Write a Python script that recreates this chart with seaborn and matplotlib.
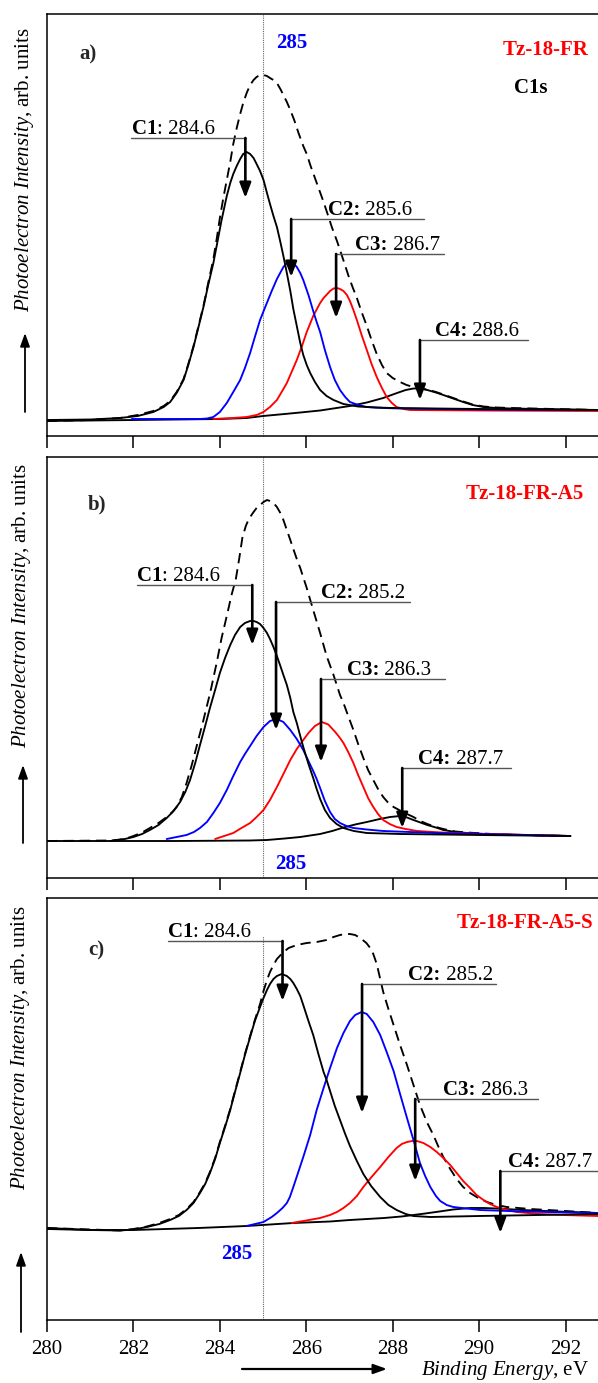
import matplotlib
matplotlib.use("Agg")
import matplotlib.pyplot as plt
import pandas as pd
import seaborn as sns

# ---------------- data (binding energy in eV, intensity in arb. units) ----------------
# Panel a) Tz-18-FR
a_env_E = [280.0, 281.0, 281.69, 282.1, 282.46, 282.70, 282.85, 283.00, 283.16, 283.27, 283.39, 283.50, 283.62,
           283.73, 283.85, 283.93, 284.00, 284.08, 284.16, 284.24, 284.31, 284.39, 284.47, 284.54, 284.62, 284.70,
           284.78, 284.85, 284.93, 285.01, 285.09, 285.16, 285.24, 285.32, 285.40, 285.47, 285.55, 285.63, 285.72,
           285.82, 285.93, 286.01, 286.10, 286.20, 286.30, 286.40, 286.50, 286.59, 286.71, 286.78, 286.88, 286.97,
           287.07, 287.17, 287.28, 287.40, 287.51, 287.63, 287.75, 287.86, 288.00, 288.17, 288.32, 288.48, 288.63,
           288.80, 289.00, 289.17, 289.40, 289.63, 289.85, 290.10, 290.40, 290.72, 292.75]
a_env_I = [15, 16, 18, 21, 25, 30, 35, 44, 57, 72, 90, 109, 130, 153, 177, 198, 218, 238, 256, 274, 292, 308, 322,
           333, 343, 351, 356, 359, 361, 361, 360, 358, 356, 353, 347, 341, 334, 326, 316, 303, 290, 282, 270, 258,
           246, 234, 221, 209, 195, 186, 173, 161, 149, 138, 124, 110, 96, 82, 71, 63, 58, 54, 51, 49, 47.5, 46.5,
           44, 41.5, 38, 34.5, 31.5, 29.5, 28.5, 28, 26]
a_c1_E = [280.0, 281.0, 281.69, 282.1, 282.46, 282.70, 282.85, 283.00, 283.16, 283.27, 283.39, 283.50, 283.62,
          283.73, 283.85, 283.93, 284.04, 284.16, 284.24, 284.31, 284.39, 284.47, 284.54, 284.62, 284.70, 284.78,
          284.85, 284.93, 285.01, 285.09, 285.16, 285.24, 285.32, 285.40, 285.47, 285.55, 285.63, 285.70, 285.78,
          285.86, 285.93, 286.01, 286.09, 286.20, 286.32, 286.47, 286.63, 286.86, 287.2, 287.6, 288.0, 290.0, 292.75]
a_c1_I = [16, 16.5, 18, 20, 24, 29, 34, 43, 56, 71, 89, 108, 129, 151, 173, 191, 216, 240, 253, 262, 270, 277,
          282, 284, 282, 278, 272, 265, 256, 243, 232, 220, 209, 194, 180, 163, 145, 127, 110, 93, 81, 71, 63, 54,
          46, 40, 36, 32, 29.5, 28.5, 28, 27, 26]
a_c2_E = [281.96, 283.54, 283.70, 283.85, 284.00, 284.16, 284.31, 284.47, 284.58, 284.70, 284.81, 284.93, 285.05,
          285.20, 285.32, 285.47, 285.55, 285.63, 285.70, 285.78, 285.86, 285.93, 286.05, 286.16, 286.24, 286.32,
          286.43, 286.55, 286.66, 286.78, 286.90, 287.01, 287.20, 287.40, 287.80, 288.17, 290.0, 292.75]
a_c2_I = [17, 17, 17.5, 19, 24, 33, 44, 56, 68, 83, 99, 116, 129, 145, 157, 169, 173, 175, 173, 169, 163, 156,
          141, 125, 114, 104, 86, 69, 56, 46, 39, 34, 31, 29, 28, 27.5, 26.5, 26]
a_c3_E = [283.85, 284.30, 284.62, 284.85, 285.01, 285.16, 285.32, 285.43, 285.55, 285.66, 285.78, 285.90, 286.01,
          286.16, 286.32, 286.40, 286.55, 286.63, 286.71, 286.78, 286.86, 286.94, 287.01, 287.09, 287.17, 287.28,
          287.40, 287.51, 287.63, 287.75, 287.86, 287.98, 288.09, 288.25, 288.40, 290.0, 292.75]
a_c3_I = [17, 18, 19, 21, 24, 29, 36, 44, 53, 64, 76, 90, 104, 120, 133, 138, 145, 147.5, 148, 147, 145, 141, 135,
          126, 116, 101, 86, 72, 59, 48, 39, 33, 29, 27, 26, 25.5, 25]
a_c4_E = [280.0, 282.0, 284.0, 284.62, 285.0, 285.5, 285.86, 286.32, 286.7, 287.01, 287.40, 287.78, 288.10, 288.30,
          288.48, 288.63, 288.80, 289.00, 289.17, 289.40, 289.63, 289.85, 290.10, 290.40, 290.72, 292.75]
a_c4_I = [15, 16, 17, 18, 20, 22, 23.5, 25.5, 28, 30, 33.5, 38, 43, 46, 47.5, 47.5, 46, 43.5, 41, 37.5, 34, 31,
          29, 28, 27.5, 26]

# Panel b) Tz-18-FR-A5
b_env_E = [280.0, 281.5, 281.8, 282.0, 282.2, 282.38, 282.58, 282.77, 282.90, 283.0, 283.12, 283.23, 283.35,
           283.47, 283.62, 283.78, 283.93, 284.04, 284.16, 284.27, 284.37, 284.45, 284.52, 284.60, 284.67, 284.78,
           284.85, 284.93, 285.01, 285.09, 285.16, 285.24, 285.32, 285.40, 285.47, 285.55, 285.63, 285.70, 285.78,
           285.86, 286.01, 286.16, 286.32, 286.47, 286.63, 286.78, 286.86, 286.97, 287.09, 287.20, 287.32, 287.43,
           287.55, 287.66, 287.78, 287.90, 288.02, 288.17, 288.33, 288.48, 288.64, 288.80, 289.00, 289.17, 289.45,
           289.72, 290.1, 290.5, 292.11]
b_env_I = [37, 37.5, 39, 42, 45.5, 50, 55, 61, 66, 71, 81, 95, 113, 133, 158, 186, 216, 240, 262, 283, 299, 320,
           340, 352, 359, 366, 370, 373, 376, 378, 377, 375, 371, 365, 358, 348, 338, 329, 319, 310, 290, 268, 245,
           222, 203, 183, 175, 162, 148, 134, 120, 108, 98, 89, 81, 75, 71, 67.5, 64, 61, 57, 54, 51, 49, 46.5,
           45.5, 44.5, 43.5, 42]
b_c1_E = [281.46, 281.8, 282.0, 282.2, 282.38, 282.58, 282.77, 282.93, 283.08, 283.20, 283.31, 283.43, 283.54,
          283.66, 283.77, 283.89, 284.00, 284.12, 284.24, 284.35, 284.47, 284.58, 284.70, 284.78, 284.85, 284.93,
          285.01, 285.09, 285.16, 285.24, 285.32, 285.40, 285.47, 285.55, 285.63, 285.70, 285.78, 285.86, 285.93,
          286.05, 286.16, 286.24, 286.32, 286.43, 286.55, 286.70, 286.86, 287.10, 287.40, 288.17, 290.0, 292.11]
b_c1_I = [37, 39, 41, 44, 48, 53, 60, 67, 76, 86, 98, 115, 133, 152, 170, 188, 205, 220, 233, 243, 251, 255, 257,
          257, 256, 254, 250, 245, 239, 231, 222, 212, 203, 193, 180, 166, 155, 142, 131, 114, 100, 89, 79, 68, 60,
          54, 50, 47, 45, 44, 43, 42]
b_c2_E = [282.77, 283.0, 283.23, 283.40, 283.54, 283.70, 283.85, 284.00, 284.16, 284.31, 284.47, 284.58, 284.70,
          284.85, 285.01, 285.16, 285.32, 285.47, 285.63, 285.78, 285.93, 286.05, 286.16, 286.24, 286.32, 286.43,
          286.55, 286.66, 286.78, 286.93, 287.09, 287.40, 287.78, 289.0, 292.11]
b_c2_I = [39, 41, 43, 46, 50, 56, 65, 75, 88, 102, 116, 124, 132, 142, 151, 157, 159, 156, 148, 139, 128, 117,
          107, 99, 90, 77, 66, 59, 55, 52, 50, 48.5, 47, 45, 42]
b_c3_E = [283.89, 284.1, 284.31, 284.50, 284.70, 284.85, 285.01, 285.16, 285.32, 285.47, 285.63, 285.78, 285.93,
          286.05, 286.20, 286.36, 286.51, 286.67, 286.78, 286.86, 286.97, 287.09, 287.20, 287.32, 287.43, 287.55,
          287.66, 287.78, 287.93, 288.09, 288.30, 288.56, 289.33, 292.11]
b_c3_I = [39, 42, 45, 50, 55, 61, 68, 78, 91, 104, 118, 129, 138, 145, 152, 156, 153.5, 146, 140, 135, 126, 115,
          103, 91, 80, 71, 64, 58, 54, 51, 49, 47, 45, 42]
b_c4_E = [280.0, 283.0, 284.70, 285.09, 285.50, 285.86, 286.32, 286.60, 286.86, 287.13, 287.40, 287.70, 287.94,
          288.17, 288.33, 288.48, 288.64, 288.80, 289.00, 289.17, 289.45, 289.72, 290.1, 290.5, 292.11]
b_c4_I = [37, 37, 37.5, 38, 39.5, 41, 44, 47, 50.5, 53.5, 56, 59, 61, 62, 60.5, 58, 55.5, 53, 50.5, 48, 46, 45,
          44, 43.5, 42]

# Panel c) Tz-18-FR-A5-S
c_env_E = [280.0, 281.0, 281.69, 282.0, 282.31, 282.6, 282.85, 283.05, 283.23, 283.39, 283.54, 283.66, 283.77,
           283.89, 284.00, 284.12, 284.24, 284.35, 284.47, 284.58, 284.70, 284.81, 284.93, 285.01, 285.09, 285.16,
           285.24, 285.32, 285.45, 285.59, 285.78, 286.01, 286.24, 286.47, 286.63, 286.78, 286.90, 287.01, 287.13,
           287.25, 287.39, 287.48, 287.55, 287.63, 287.70, 287.78, 287.90, 288.02, 288.17, 288.33, 288.48, 288.63,
           288.80, 288.94, 289.05, 289.17, 289.33, 289.48, 289.63, 289.79, 289.98, 290.18, 290.40, 290.64, 291.18,
           292.0, 292.75]
c_env_I = [92, 90.5, 89.5, 91, 93.5, 97, 101, 105, 111, 118, 128, 137, 148, 162, 178, 194, 211, 229, 248, 266, 284,
           300, 316, 329, 340, 348, 355, 361, 367, 372, 375, 377, 378, 380, 383, 385, 386, 386, 385, 382, 377, 372,
           366, 356, 343, 328, 311, 295, 275, 255, 235, 215, 197, 185, 174, 163, 151, 141, 133, 127, 122, 118, 115,
           113, 111, 109, 107]
c_c1_E = [280.0, 280.5, 281.0, 281.69, 282.0, 282.31, 282.6, 282.85, 283.05, 283.23, 283.39, 283.54, 283.66,
          283.77, 283.89, 284.00, 284.12, 284.24, 284.35, 284.47, 284.58, 284.70, 284.81, 284.93, 285.01, 285.09,
          285.16, 285.24, 285.32, 285.43, 285.55, 285.63, 285.70, 285.78, 285.86, 285.93, 286.05, 286.16, 286.28,
          286.40, 286.47, 286.55, 286.66, 286.78, 286.90, 287.01, 287.17, 287.32, 287.50, 287.71, 287.90, 288.09,
          288.30, 288.48, 288.87, 290.0, 292.75]
c_c1_I = [92, 91, 90, 89.5, 90.5, 93, 96, 100, 104, 110, 117, 127, 136, 147, 161, 177, 193, 210, 228, 247, 265,
          283, 299, 313, 322, 330, 336, 341, 344, 346, 344, 341, 337, 331, 324, 315, 299, 285, 266, 248, 240, 229,
          214, 200, 186, 174, 159, 146, 134, 123, 115, 110, 106, 104, 103, 104, 106]
c_c2_E = [284.62, 285.01, 285.20, 285.32, 285.45, 285.55, 285.62, 285.70, 285.80, 285.93, 286.09, 286.24, 286.40,
          286.55, 286.71, 286.86, 287.01, 287.13, 287.28, 287.40, 287.55, 287.71, 287.86, 288.02, 288.17, 288.33,
          288.48, 288.63, 288.75, 288.87, 289.00, 289.10, 289.25, 289.40, 290.02, 291.0, 292.75]
c_c2_I = [94, 98, 103, 107, 112, 117, 123, 133, 146, 163, 185, 210, 232, 252, 272, 287, 299, 305, 308, 306, 298,
          285, 268, 249, 226, 202, 180, 157, 144, 133, 124, 119, 115, 113, 110, 108.5, 107]
c_c3_E = [285.66, 286.0, 286.32, 286.55, 286.71, 286.86, 287.01, 287.17, 287.32, 287.51, 287.71, 287.90, 288.09,
          288.21, 288.33, 288.45, 288.56, 288.71, 288.87, 289.02, 289.17, 289.33, 289.48, 289.63, 289.79, 289.94,
          290.10, 290.25, 290.41, 290.64, 290.87, 291.4, 291.94, 292.75]
c_c3_I = [97, 99.5, 102, 105, 108, 112, 117, 124, 133, 143, 153, 163, 172, 176, 178, 179, 179, 177, 173, 168, 162,
          155, 147, 139, 132, 125, 120, 116, 113, 110, 108, 106, 105, 104]
c_c4_E = [280.0, 281.0, 282.0, 283.5, 284.62, 285.70, 286.55, 287.01, 287.8, 288.2, 288.48, 288.75, 289.0, 289.4,
          289.79, 290.1, 290.4, 291.0, 291.8, 292.75]
c_c4_I = [91, 90, 90, 92, 94, 97, 98.5, 100, 102, 103.5, 105, 106.5, 108, 110.5, 112, 112, 111.5, 110, 108.5, 107]

# text labels
samples = ["Tz-18-FR", "Tz-18-FR-A5", "Tz-18-FR-A5-S"]
panel_tags = ["a)", "b)", "c)"]
peak_names = ["C1", "C2", "C3", "C4"]
a_peak_values = ["284.6", "285.6", "286.7", "288.6"]
b_peak_values = ["284.6", "285.2", "286.3", "287.7"]
c_peak_values = ["284.6", "285.2", "286.3", "287.7"]
ref_energy = 285
xticks = [280, 282, 284, 286, 288, 290, 292]

# ---------------- layout (annotation placement, not data) ----------------
FIG_W, FIG_H = 598, 1383
LEFT_PX = 47
panel_top_px = [14, 457, 898]
panel_bot_px = [436, 878, 1320]
XMIN, XMAX = 280.0, 292.75

# per panel: (line y, line x0, line x1, arrow x, arrow tip y, text x) in data units
a_ann = [(298, 281.94, 284.61, 284.59, 238, 281.96),
         (217, 285.65, 288.73, 285.65, 159, 286.50),
         (182, 286.69, 289.19, 286.69, 118, 287.13),
         (96, 288.63, 291.13, 288.63, 36, 288.98)]
b_ann = [(293, 282.08, 284.75, 284.75, 233, 282.08),
         (276, 285.30, 288.40, 285.30, 148, 286.34),
         (199, 286.34, 289.21, 286.34, 116, 286.94),
         (110, 288.22, 290.74, 288.22, 50, 288.59)]
c_ann = [(379, 282.80, 285.45, 285.45, 319, 282.80),
         (336, 287.29, 290.39, 287.29, 207, 288.36),
         (221, 288.52, 291.37, 288.52, 139, 289.17),
         (149, 290.49, 292.9, 290.49, 87, 290.67)]

# ---------------- style ----------------
sns.set_theme(style="white")
plt.rcParams['font.family'] = ['Liberation Serif', 'DejaVu Serif']
plt.rcParams['mathtext.fontset'] = 'custom'
plt.rcParams['mathtext.rm'] = 'Liberation Serif'
plt.rcParams['mathtext.it'] = 'Liberation Serif:italic'
plt.rcParams['mathtext.bf'] = 'Liberation Serif:bold'
FS = 15

fig = plt.figure(figsize=(FIG_W / 100, FIG_H / 100), dpi=100)

panels = [
    dict(env=(a_env_E, a_env_I), c1=(a_c1_E, a_c1_I), c2=(a_c2_E, a_c2_I), c3=(a_c3_E, a_c3_I),
         c4=(a_c4_E, a_c4_I), vals=a_peak_values, ann=a_ann),
    dict(env=(b_env_E, b_env_I), c1=(b_c1_E, b_c1_I), c2=(b_c2_E, b_c2_I), c3=(b_c3_E, b_c3_I),
         c4=(b_c4_E, b_c4_I), vals=b_peak_values, ann=b_ann),
    dict(env=(c_env_E, c_env_I), c1=(c_c1_E, c_c1_I), c2=(c_c2_E, c_c2_I), c3=(c_c3_E, c_c3_I),
         c4=(c_c4_E, c_c4_I), vals=c_peak_values, ann=c_ann),
]


def curve(ax, xy, color, dashed=False):
    df = pd.DataFrame({"E": xy[0], "I": xy[1]})
    kw = dict(linestyle=(0, (5.5, 3.2))) if dashed else {}
    sns.lineplot(data=df, x="E", y="I", ax=ax, color=color, linewidth=1.35,
                 estimator=None, sort=False, **kw)


axes = []
for k, p in enumerate(panels):
    top, bot = panel_top_px[k], panel_bot_px[k]
    ax = fig.add_axes([LEFT_PX / FIG_W, (FIG_H - bot) / FIG_H, (FIG_W - LEFT_PX) / FIG_W, (bot - top) / FIG_H])
    axes.append(ax)
    ax.set_xlim(XMIN, XMAX)
    ax.set_ylim(0, bot - top)
    # reference line at 285 eV
    ymax_frac = 0.91 if k == 2 else 1.0
    ax.axvline(ref_energy, ymin=0, ymax=ymax_frac, color='#666666', lw=0.8, ls=(0, (1, 1)), zorder=1)

    curve(ax, p["env"], "black", dashed=True)
    curve(ax, p["c4"], "black")
    curve(ax, p["c3"], "#ff0000")
    curve(ax, p["c2"], "#0000ff")
    curve(ax, p["c1"], "black")

    # peak annotations
    for j, (yl, x0, x1, xa, tip, xt) in enumerate(p["ann"]):
        ax.plot([x0, x1], [yl, yl], color='#555555', lw=1.0, clip_on=False, zorder=4)
        ax.annotate('', xy=(xa, tip), xytext=(xa, yl),
                    arrowprops=dict(arrowstyle='-|>,head_length=0.45,head_width=0.17', color='black',
                                    lw=1.9, shrinkA=0, shrinkB=0, mutation_scale=20), zorder=5)
        if j == 0:
            bold_part, reg_part = peak_names[j], ": " + p["vals"][j]
        else:
            bold_part, reg_part = peak_names[j] + ":", " " + p["vals"][j]
        t_bold = ax.text(xt, yl + 4, bold_part, fontsize=FS, fontweight='bold', ha='left', va='baseline',
                         color='black', zorder=6, clip_on=False)
        ax.annotate(reg_part, xy=(1, 0), xycoords=t_bold, ha='left', va='bottom', fontsize=FS,
                    color='black', zorder=6, annotation_clip=False)

    # axes styling
    for s in ['top', 'left', 'bottom']:
        ax.spines[s].set_color('black')
        ax.spines[s].set_linewidth(1.1)
    ax.spines['right'].set_visible(False)
    ax.set_xticks(xticks)
    ax.set_yticks([])
    ax.tick_params(axis='x', which='major', direction='out', length=8.5, width=1.1, color='black',
                   bottom=True, top=False, pad=6, labelsize=FS, labelcolor='black')
    if k < 2:
        ax.set_xticklabels([])
    else:
        ax.set_xticklabels([str(t) for t in xticks])
    ax.set_xlabel('')
    ax.set_ylabel('')

    # side label and arrow
    yl_x = [25, 22, 21][k]
    yl_top = [27, 463, 905][k]
    fig.text(yl_x / FIG_W, 1 - yl_top / FIG_H, r'$\mathit{Photoelectron\ Intensity}$, arb. units',
             rotation=90, ha='center', va='top', fontsize=FS, color='black')
    ar = [(25, 412, 333), (23, 843, 765), (21, 1332, 1252)][k]
    ax.annotate('', xy=(ar[0] / FIG_W, 1 - ar[2] / FIG_H), xytext=(ar[0] / FIG_W, 1 - ar[1] / FIG_H),
                xycoords='figure fraction', textcoords='figure fraction', annotation_clip=False,
                arrowprops=dict(arrowstyle='-|>,head_length=0.5,head_width=0.18', color='black',
                                lw=1.3, shrinkA=0, shrinkB=0, mutation_scale=16))

ax_a, ax_b, ax_c = axes
# panel tags, sample names, reference labels
ax_a.text(280.74, 377, panel_tags[0], fontsize=FS, fontweight='bold', ha='left', va='baseline')
ax_b.text(280.95, 369, panel_tags[1], fontsize=FS, fontweight='bold', ha='left', va='baseline')
ax_c.text(280.95, 365, panel_tags[2], fontsize=FS, fontweight='bold', ha='left', va='baseline')

ax_a.text(292.52, 381, samples[0], fontsize=FS, fontweight='bold', color='#ff0000', ha='right', va='baseline')
ax_a.text(291.19, 343, "C1s", fontsize=FS, fontweight='bold', color='black', ha='center', va='baseline')
ax_b.text(292.43, 379, samples[1], fontsize=FS, fontweight='bold', color='#ff0000', ha='right', va='baseline')
ax_c.text(289.47, 392, samples[2], fontsize=FS, fontweight='bold', color='#ff0000', ha='left', va='baseline',
          clip_on=False)

ax_a.text(285.66, 388, str(ref_energy), fontsize=FS, fontweight='bold', color='#0000ff', ha='center', va='baseline')
ax_b.text(285.63, 9, str(ref_energy), fontsize=FS, fontweight='bold', color='#0000ff', ha='center', va='baseline')
ax_c.text(284.40, 61, str(ref_energy), fontsize=FS, fontweight='bold', color='#0000ff', ha='center', va='baseline')

# x axis label with arrow
fig.text(589 / FIG_W, 1 - 1370 / FIG_H, r'$\mathit{Binding\ Energy}$, eV', ha='right', va='center',
         fontsize=FS, color='black')
ax_c.annotate('', xy=(387 / FIG_W, 1 - 1369 / FIG_H), xytext=(242 / FIG_W, 1 - 1369 / FIG_H),
              xycoords='figure fraction', textcoords='figure fraction', annotation_clip=False,
              arrowprops=dict(arrowstyle='-|>,head_length=0.5,head_width=0.18', color='black',
                              lw=1.6, shrinkA=0, shrinkB=0, mutation_scale=16))

fig.savefig("out.png", dpi=100)
